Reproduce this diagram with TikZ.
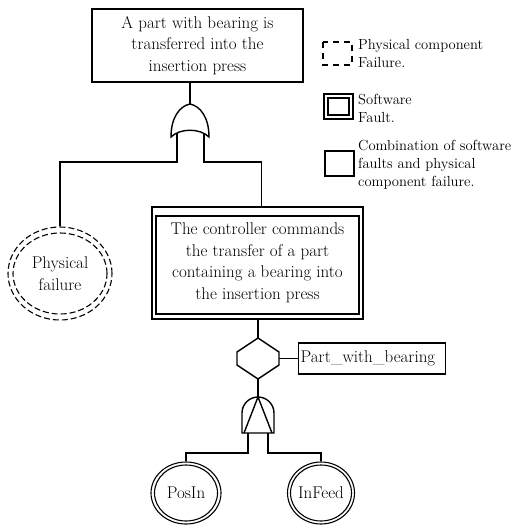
\documentclass[tikz,border=0pt]{standalone}
\usetikzlibrary{shapes.geometric}
\begin{document}
\begin{tikzpicture}[x=1pt,y=-1pt,
  every node/.style={font=\fontsize{17}{21.5}\selectfont, inner sep=0pt},
  ln/.style={line width=1.4pt, line join=miter},
  event/.style={ln, draw, rectangle, align=center},
  basic/.style={ellipse, draw, line width=1.1pt, align=center},
  phys/.style={line width=1.1pt, dash pattern=on 6pt off 3pt},
  keytext/.style={font=\fontsize{14.6}{18}\selectfont, anchor=west, align=left}]
\useasboundingbox (0,0) rectangle (523,527);

% top event
\node[event, minimum width=211pt, minimum height=73pt] (top) at (197.5,45.5)
  {A part with bearing is\\transferred into the\\insertion press};

% OR gate
\coordinate (orin) at (190,104);
\coordinate (orL) at (177,133);
\coordinate (orR) at (204,133);
\draw[ln] (171,137) .. controls (171,117) and (180,106) .. (orin)
  .. controls (200,106) and (209,117) .. (209,137)
  .. controls (200,128) and (180,128) .. (171,137) -- cycle;

% physical failure (dashed double ellipse)
\node[basic, phys, minimum width=104pt, minimum height=93pt] (pf) at (60,273.5) {Physical\\failure};
\draw[phys] (pf.center) ellipse [x radius=47pt, y radius=40.5pt];

% software fault event (double box)
\node[event, minimum width=211pt, minimum height=112pt] (sw) at (257.5,263)
  {The controller commands\\the transfer of a part\\containing a bearing into\\the insertion press};
\draw[ln] (156,216) rectangle (359,314);
\coordinate (swin) at (261.5,207);

% connectors around the OR gate
\draw[ln] (top.south -| orin) -- (orin);
\draw[ln] (orL) -- (177,162) -| (pf.north);
\draw[ln] (orR) -- (204,162) -| (swin);

% condition (hexagon) with its label
\coordinate (hexT) at (258,338);
\coordinate (hexR) at (279,358.5);
\coordinate (hexB) at (258,379);
\draw[ln] (hexT) -- (279,352) -- (279,365) -- (hexB) -- (237,365) -- (237,352) -- cycle;
\node[event, anchor=west, text width=143pt, inner xsep=2pt, minimum height=31pt, align=left] (cond) at (298,358.5) {Part\_with\_bearing};
\draw[ln] (sw.south -| hexT) -- (hexT);
\draw[ln] (hexR) -- (cond.west);

% AND gate
\coordinate (andT) at (258,397);
\coordinate (andL) at (248,433);
\coordinate (andR) at (268,433);
\draw[ln] (242,433) -- (242,413) .. controls (242,404.2) and (249.2,397) .. (andT)
  .. controls (266.8,397) and (274,404.2) .. (274,413) -- (274,433) -- cycle;
\draw[ln] (244,433) -- (andT) -- (272,433);
\draw[ln] (hexB) -- (andT);

% basic events (double ellipses)
\node[basic, minimum width=70pt, minimum height=62pt] (posin) at (186,493) {PosIn};
\draw[line width=1.1pt] (posin.center) ellipse [x radius=31.5pt, y radius=28pt];
\node[basic, minimum width=67pt, minimum height=62pt] (infeed) at (321,493) {InFeed};
\draw[line width=1.1pt] (infeed.center) ellipse [x radius=30.5pt, y radius=28pt];

\draw[ln] (andL) -- (248,453) -| (posin.north);
\draw[ln] (andR) -- (268,453) -| (infeed.north);

% key
\draw[ln, dash pattern=on 6pt off 5pt] (323,42) rectangle (352,65);
\node[keytext] (k1) at (358,54) {Physical component\\Failure.};
\draw[ln] (324,94) rectangle (353,119);
\draw[ln] (328,98) rectangle (349,115);
\node[keytext] (k2) at (358,108) {Software\\Fault.};
\draw[ln] (325,151) rectangle (354,176);
\node[keytext] (k3) at (358,165) {Combination of software\\faults and physical\\component failure.};
\end{tikzpicture}
\end{document}
